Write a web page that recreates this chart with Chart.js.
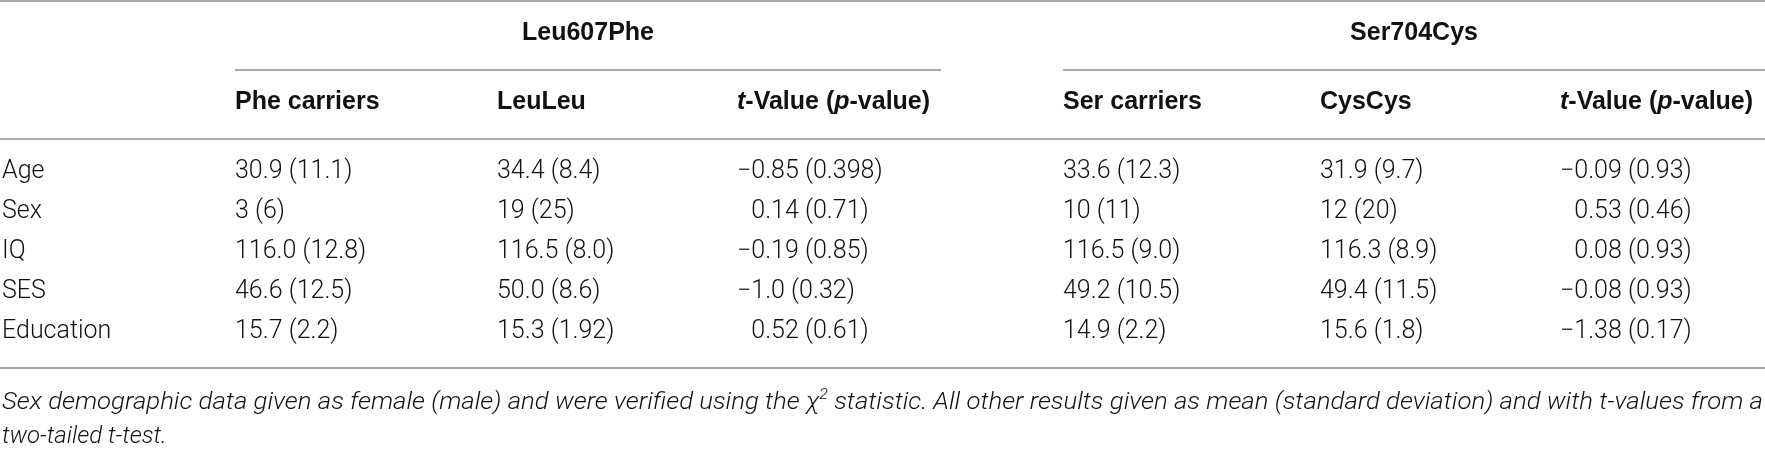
<!DOCTYPE html>
<html>
<head>
<meta charset="utf-8">
<title>Leu607Phe / Ser704Cys demographics</title>
<script src="https://cdn.jsdelivr.net/npm/chart.js@4.4.1/dist/chart.umd.min.js"></script>
<style>
  html, body { margin: 0; padding: 0; background: #fff; }
  #wrap { width: 1765px; height: 450px; position: relative; }
</style>
</head>
<body>
<div id="wrap"><canvas id="tbl"></canvas></div>
<script>
// Tabla de datos
const rowLabels = ['Age', 'Sex', 'IQ', 'SES', 'Education'];
const groupNames = ['Leu607Phe', 'Ser704Cys'];
const columnHeads = ['Phe carriers', 'LeuLeu', '*t*-Value (*p*-value)', 'Ser carriers', 'CysCys', '*t*-Value (*p*-value)'];

const pheCarriers = ['30.9 (11.1)', '3 (6)', '116.0 (12.8)', '46.6 (12.5)', '15.7 (2.2)'];
const leuLeu      = ['34.4 (8.4)', '19 (25)', '116.5 (8.0)', '50.0 (8.6)', '15.3 (1.92)'];
const leuTValue   = ['\u22120.85 (0.398)', '0.14 (0.71)', '\u22120.19 (0.85)', '\u22121.0 (0.32)', '0.52 (0.61)'];
const serCarriers = ['33.6 (12.3)', '10 (11)', '116.5 (9.0)', '49.2 (10.5)', '14.9 (2.2)'];
const cysCys      = ['31.9 (9.7)', '12 (20)', '116.3 (8.9)', '49.4 (11.5)', '15.6 (1.8)'];
const serTValue   = ['\u22120.09 (0.93)', '0.53 (0.46)', '0.08 (0.93)', '\u22120.08 (0.93)', '\u22121.38 (0.17)'];

const footNotes = [
    'Sex demographic data given as female (male) and were verified using the \u03c7^2^ statistic. All other results given as mean (standard deviation) and with t-values from a',
    'two-tailed t-test.'
];

const columns = [pheCarriers, leuLeu, leuTValue, serCarriers, cysCys, serTValue];

// Maquetación (px)
const colStart = [235, 497, 737, 1063, 1320, 1560];
const groupSpan = [[235, 941], [1063, 1765]];
const rowsY = { topRule: 1, group: 33, groupRule: 70, head: 102, headRule: 139, bottomRule: 368, notes: [403, 437] };

const FAMILY = 'Roboto, "Liberation Sans", Arial, sans-serif';
const fontBody = `300 25px ${FAMILY}`;
const fontNote = `italic 300 24px ${FAMILY}`;
const fontHead = `bold 25px "Liberation Sans", Arial, sans-serif`;
const fontHeadIt = `italic bold 25px "Liberation Sans", Arial, sans-serif`;
const ruleColor = '#a9a9a9';
const textColor = '#111';

// texto con *cursiva* y ^superíndice^
function splitRich(text, base, italic) {
    const out = [];
    let mode = 'n';
    let buf = '';
    for (const ch of text) {
        if (ch === '*' || ch === '^') {
            if (buf) out.push({ t: buf, mode });
            buf = '';
            const m = ch === '*' ? 'i' : 's';
            mode = mode === m ? 'n' : m;
        } else {
            buf += ch;
        }
    }
    if (buf) out.push({ t: buf, mode });
    return out.map(s => ({
        t: s.t,
        font: s.mode === 'i' ? italic : (s.mode === 's' ? base.replace(/\d+px/, m => Math.round(parseInt(m) * 0.62) + 'px') : base),
        dy: s.mode === 's' ? -8 : 0
    }));
}

function drawRich(ctx, segs, x, y, fitWidth) {
    let total = 0;
    segs.forEach(s => { ctx.font = s.font; s.w = ctx.measureText(s.t).width; total += s.w; });
    ctx.save();
    ctx.translate(x, y);
    if (fitWidth) ctx.scale(fitWidth / total, 1);
    let cx = 0;
    segs.forEach(s => {
        ctx.font = s.font;
        ctx.fillText(s.t, cx, s.dy);
        cx += s.w;
    });
    ctx.restore();
    return total;
}

function hRule(ctx, x0, x1, y) {
    ctx.beginPath();
    ctx.moveTo(x0, y);
    ctx.lineTo(x1, y);
    ctx.stroke();
}

const tablePlugin = {
    id: 'tablePlugin',
    afterDraw(chart) {
        const ctx = chart.ctx;
        const xs = chart.scales.x;
        const ys = chart.scales.y;
        const left = xs.getPixelForValue(xs.min);
        const right = xs.getPixelForValue(xs.max);

        ctx.save();
        ctx.fillStyle = '#fff';
        ctx.fillRect(0, 0, chart.width, chart.height);

        // reglas
        ctx.strokeStyle = ruleColor;
        ctx.lineWidth = 2;
        hRule(ctx, left, right, rowsY.topRule);
        groupSpan.forEach(sp => hRule(ctx, xs.getPixelForValue(sp[0]), xs.getPixelForValue(sp[1]), rowsY.groupRule));
        hRule(ctx, left, right, rowsY.headRule);
        hRule(ctx, left, right, rowsY.bottomRule);

        ctx.fillStyle = textColor;
        ctx.textBaseline = 'middle';

        // grupos
        ctx.font = fontHead;
        ctx.textAlign = 'center';
        groupNames.forEach((g, i) => {
            const cx = (xs.getPixelForValue(groupSpan[i][0]) + xs.getPixelForValue(groupSpan[i][1])) / 2;
            ctx.fillText(g, cx, rowsY.group);
        });

        // cabeceras de columna
        ctx.textAlign = 'left';
        columnHeads.forEach((h, j) => {
            drawRich(ctx, splitRich(h, fontHead, fontHeadIt), xs.getPixelForValue(colStart[j]), rowsY.head);
        });

        // filas
        ctx.font = fontBody;
        const minusW = ctx.measureText('\u2212').width;
        rowLabels.forEach((lab, i) => {
            const y = ys.getPixelForValue(i);
            ctx.fillText(lab, left + 2, y);
            columns.forEach((col, j) => {
                const txt = col[i];
                let x = xs.getPixelForValue(colStart[j]);
                // alinear los valores t positivos con el signo menos
                if ((j === 2 || j === 5) && txt[0] !== '\u2212') x += minusW;
                ctx.fillText(txt, x, y);
            });
        });

        // notas al pie
        footNotes.forEach((n, k) => {
            const segs = splitRich(n, fontNote, fontNote);
            drawRich(ctx, segs, left + 2, rowsY.notes[k], k === 0 ? right - left - 4 : null);
        });
        ctx.restore();
    }
};

new Chart(document.getElementById('tbl'), {
    type: 'scatter',
    data: { datasets: [] },
    options: {
        responsive: true,
        maintainAspectRatio: false,
        animation: false,
        layout: { padding: { top: 152, bottom: 98, left: 0, right: 0 } },
        plugins: { legend: { display: false }, tooltip: { enabled: false } },
        scales: {
            x: { type: 'linear', min: 0, max: 1765, display: false },
            y: { type: 'category', labels: rowLabels, offset: true, display: false }
        }
    },
    plugins: [tablePlugin]
});
</script>
</body>
</html>
